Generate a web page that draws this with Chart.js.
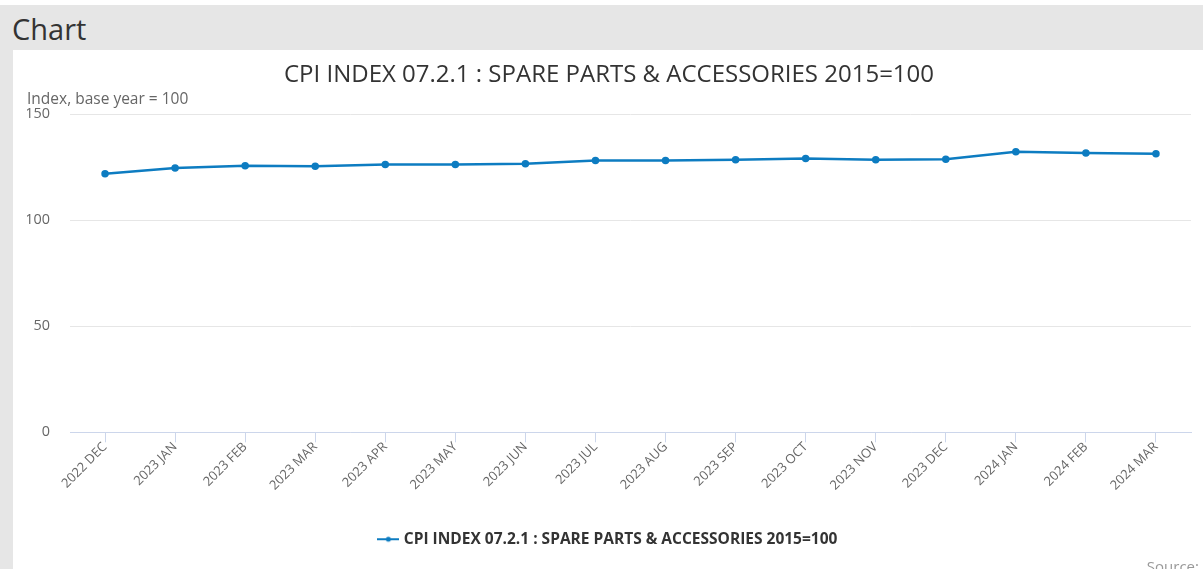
<!DOCTYPE html>
<html>
<head>
<meta charset="utf-8">
<script src="https://cdn.jsdelivr.net/npm/chart.js@4/dist/chart.umd.min.js"></script>
<style>
    body { margin: 0; background: #fff; font-family: "Open Sans", sans-serif; }
    #frame { position: absolute; left: 0; top: 5px; width: 1203px; height: 564px; background: #e6e6e6; }
    #heading { position: absolute; left: 12px; top: 4px; font-size: 29px; color: #333; }
    #panel { position: absolute; left: 13px; top: 45px; width: 1190px; height: 519px; background: #fff; }
    #source { position: absolute; right: 4px; bottom: -7px; font-size: 15px; color: #999; }
</style>
</head>
<body>
<div id="frame">
    <div id="heading">Chart</div>
    <div id="panel">
        <canvas id="cpiChart"></canvas>
        <div id="source">Source:</div>
    </div>
</div>
<script>
var chartTitle = 'CPI INDEX 07.2.1 : SPARE PARTS & ACCESSORIES 2015=100';
var axisTitle = 'Index, base year = 100';
var months = ['2022 DEC', '2023 JAN', '2023 FEB', '2023 MAR', '2023 APR', '2023 MAY', '2023 JUN', '2023 JUL',
    '2023 AUG', '2023 SEP', '2023 OCT', '2023 NOV', '2023 DEC', '2024 JAN', '2024 FEB', '2024 MAR'];
var cpiValues = [122.0, 124.7, 125.8, 125.5, 126.4, 126.4, 126.7, 128.3,
    128.3, 128.6, 129.2, 128.6, 128.8, 132.4, 131.8, 131.4];
var yTicks = [0, 50, 100, 150];

var lineColor = '#0d7cc1';

// legend symbol: short line with a dot in the middle
var legendSymbol = document.createElement('canvas');
legendSymbol.width = 22;
legendSymbol.height = 8;
var sctx = legendSymbol.getContext('2d');
sctx.strokeStyle = lineColor;
sctx.lineWidth = 2;
sctx.beginPath();
sctx.moveTo(0, 4);
sctx.lineTo(22, 4);
sctx.stroke();
sctx.fillStyle = lineColor;
sctx.beginPath();
sctx.arc(11, 4, 2.5, 0, Math.PI * 2);
sctx.fill();

var canvas = document.getElementById('cpiChart');
canvas.width = 1190;
canvas.height = 519;

var chart = new Chart(canvas, {
    type: 'line',
    data: {
        labels: months,
        datasets: [{
            label: chartTitle,
            data: cpiValues,
            borderColor: lineColor,
            backgroundColor: lineColor,
            borderWidth: 2.5,
            pointRadius: 2.5,
            pointHoverRadius: 4,
            tension: 0
        }]
    },
    options: {
        responsive: false,
        animation: false,
        layout: {
            padding: { left: 14, right: 12, top: 11, bottom: 12 }
        },
        plugins: {
            title: {
                display: true,
                text: chartTitle,
                color: '#333',
                font: { family: 'Open Sans', size: 24, weight: 'normal' },
                padding: { top: 0, bottom: 0 }
            },
            subtitle: {
                display: true,
                text: axisTitle,
                align: 'start',
                color: '#666',
                font: { family: 'Open Sans', size: 15.5 },
                padding: { top: 0, bottom: 6 }
            },
            legend: {
                position: 'bottom',
                labels: {
                    usePointStyle: true,
                    pointStyle: legendSymbol,
                    color: '#333',
                    font: { family: 'Open Sans', size: 15.5, weight: 'bold' },
                    padding: 10
                }
            },
            tooltip: { enabled: false }
        },
        scales: {
            x: {
                offset: true,
                grid: {
                    drawOnChartArea: false,
                    drawTicks: true,
                    tickLength: 10,
                    color: '#ccd6eb'
                },
                border: { color: '#ccd6eb' },
                ticks: {
                    minRotation: 45,
                    maxRotation: 45,
                    autoSkip: false,
                    color: '#666',
                    font: { family: 'Open Sans', size: 13 },
                    padding: -3
                },
                afterFit: function (axis) {
                    axis.height += 31;
                    axis.paddingLeft = 0;
                }
            },
            y: {
                min: 0,
                max: 150,
                afterBuildTicks: function (axis) {
                    axis.ticks = yTicks.map(function (v) { return { value: v }; });
                },
                afterFit: function (axis) {
                    axis.width = 43;
                },
                grid: { color: '#e6e6e6', drawTicks: false },
                border: { display: false },
                ticks: {
                    color: '#666',
                    font: { family: 'Open Sans', size: 14.4 },
                    padding: 20
                }
            }
        }
    }
});
</script>
</body>
</html>
